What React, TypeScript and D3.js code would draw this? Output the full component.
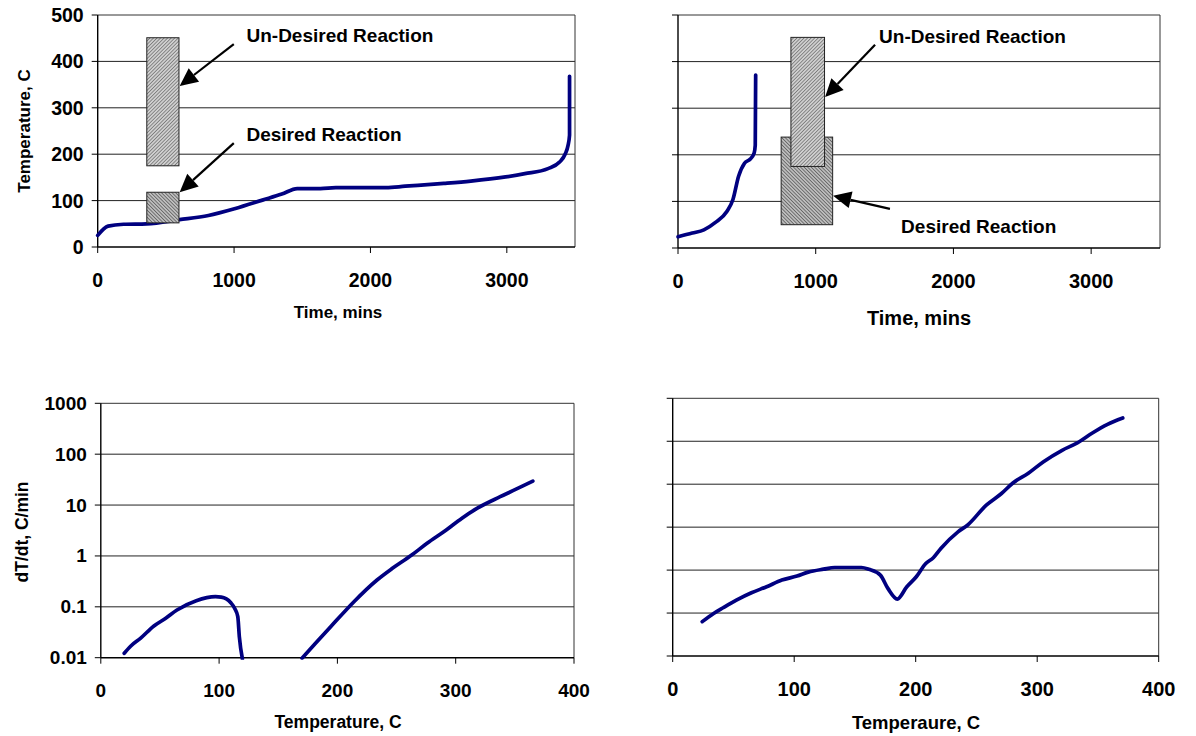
import React from 'react';
import * as d3 from 'd3';

const font = '"Liberation Sans", Arial, sans-serif';
const navy = '#000080';

// top left: slow run, temperature vs time
const slowTime = [0, 76, 190, 359, 600, 812, 1010, 1208, 1350, 1463, 1633, 1746, 2114, 2255, 2538, 2736, 2991, 3132, 3302, 3387, 3429, 3449, 3460, 3460];
const slowTemp = [25, 45, 49, 50, 59, 68, 83, 101, 114, 126, 126, 128, 128, 131, 137, 142, 151, 158, 169, 183, 201, 219, 241, 368];

// top right: fast run, temperature vs time
const fastTime = [0, 104, 188, 272, 356, 399, 440, 483, 525, 553, 561, 564];
const fastTemp = [24, 32, 39, 55, 79, 104, 154, 182, 191, 204, 221, 371];

// bottom left: rate vs temperature, two pieces
const rateTempA = [19.8, 25.4, 33.5, 44.9, 54.6, 64.4, 80.7, 96.9, 101.8, 109.9, 113.2, 115.8, 117.1, 119.7];
const rateA = [0.0122, 0.017, 0.024, 0.042, 0.059, 0.0865, 0.132, 0.158, 0.155, 0.12, 0.093, 0.064, 0.026, 0.0095];
const rateTempB = [170.1, 181.5, 194.5, 214, 233.5, 246.5, 262.8, 275.8, 292, 305, 318, 337.6, 350.6, 365.2];
const rateB = [0.0098, 0.0192, 0.041, 0.126, 0.336, 0.57, 1.04, 1.77, 3.23, 5.47, 8.61, 14.6, 20.3, 29.6];

// bottom right: fast run rate vs temperature
const fastRateTemp = [24.3, 33.7, 41.5, 52.4, 64.8, 77.3, 89.8, 102.3, 111.6, 124.1, 133.4, 155.3, 161.5, 170.9, 177.1, 184.9, 192.7, 200.5, 208.3, 214.5, 220.7, 234.8, 242.6, 258.1, 270.6, 280, 292.4, 304.9, 320.5, 333, 345.4, 357.9, 370.4];
const fastRate = [0.0063, 0.0098, 0.0133, 0.02, 0.0297, 0.0409, 0.0585, 0.0725, 0.0898, 0.105, 0.115, 0.115, 0.104, 0.0766, 0.0375, 0.0212, 0.041, 0.07, 0.143, 0.194, 0.319, 0.778, 1.11, 3.25, 6.07, 10.7, 17.7, 33, 61.7, 91.4, 156, 248, 348];

const timeTicks = [0, 1000, 2000, 3000];
const tempTicks = [0, 100, 200, 300, 400, 500];
const tempAxisTicks = [0, 100, 200, 300, 400];
const rateTicks = [0.01, 0.1, 1, 10, 100, 1000];
const fastRateTicks = [0.001, 0.01, 0.1, 1, 10, 100, 1000];

// reaction windows: [time from, time to, temp from, temp to]
const slowUndesired = [360, 596, 175, 451];
const slowDesired = [360, 596, 52, 118];
const fastDesired = [749, 1123, 50, 238];
const fastUndesired = [820, 1064, 175, 452];

// callouts: [tail time, tail temp, tip time, tip temp, text time, text temp]
const slowCallouts = [
  { text: 'Un-Desired Reaction', at: [998, 437, 601, 347, 1091, 455] },
  { text: 'Desired Reaction', at: [998, 224, 601, 118, 1091, 243] },
];
const fastCallouts = [
  { text: 'Un-Desired Reaction', at: [1431, 436, 1068, 324, 1460, 453] },
  { text: 'Desired Reaction', at: [1539, 84, 1126, 112, 1620, 47] },
];

function Txt({ x, y, size, anchor = 'middle', rotate = 0, children }: any) {
  return (
    <text
      transform={`translate(${x},${y}) rotate(${rotate})`}
      textAnchor={anchor}
      dominantBaseline="central"
      fontFamily={font}
      fontWeight="bold"
      fontSize={size}
      fill="#000"
    >
      {children}
    </text>
  );
}

function Frame({ x, y, xTicks, yTicks, showYLabels, yFmt, tickSize }: any) {
  const [l, r] = x.range();
  const [b, t] = y.range();
  return (
    <g>
      {yTicks.slice(1, -1).map((v: number) => (
        <line key={'g' + v} x1={l} x2={r} y1={y(v)} y2={y(v)} stroke="#222" strokeWidth={1} />
      ))}
      <line x1={l} x2={r} y1={t} y2={t} stroke="#333" strokeWidth={1} />
      <line x1={r} x2={r} y1={t} y2={b} stroke="#333" strokeWidth={1} />
      <line x1={l} x2={r} y1={b} y2={b} stroke="#000" strokeWidth={1.4} />
      <line x1={l} x2={l} y1={t} y2={b} stroke="#000" strokeWidth={1.4} />
      {yTicks.map((v: number) => (
        <line key={'yt' + v} x1={l - 6} x2={l} y1={y(v)} y2={y(v)} stroke="#000" strokeWidth={1} />
      ))}
      {xTicks.map((v: number) => (
        <line key={'xt' + v} x1={x(v)} x2={x(v)} y1={b} y2={b + 6} stroke="#000" strokeWidth={1} />
      ))}
      {xTicks.map((v: number) => (
        <Txt key={'xl' + v} x={x(v)} y={b + 33} size={tickSize}>{String(v)}</Txt>
      ))}
      {showYLabels &&
        yTicks.map((v: number) => (
          <Txt key={'yl' + v} x={l - 14} y={y(v)} size={tickSize} anchor="end">{yFmt(v)}</Txt>
        ))}
    </g>
  );
}

function Curve({ x, y, xs, ys, clip }: any) {
  const line = d3
    .line<number>()
    .x((_, i) => x(xs[i]))
    .y((d) => y(d))
    .curve(d3.curveMonotoneX);
  return (
    <path
      d={line(ys) || ''}
      fill="none"
      stroke={navy}
      strokeWidth={3.7}
      strokeLinecap="round"
      strokeLinejoin="round"
      clipPath={clip}
    />
  );
}

function WindowBox({ x, y, r, fill }: any) {
  return (
    <rect
      x={x(r[0])}
      y={y(r[3])}
      width={x(r[1]) - x(r[0])}
      height={y(r[2]) - y(r[3])}
      fill={fill}
      stroke="#222"
      strokeWidth={1}
    />
  );
}

function Callout({ x, y, c }: any) {
  const [tx, tT, px, pT, lx, lT] = c.at;
  const x1 = x(tx), y1 = y(tT), x2 = x(px), y2 = y(pT);
  const ang = Math.atan2(y2 - y1, x2 - x1);
  const len = 18, half = 8.5;
  const bx = x2 - len * Math.cos(ang), by = y2 - len * Math.sin(ang);
  const nx = -Math.sin(ang) * half, ny = Math.cos(ang) * half;
  return (
    <g>
      <line x1={x1} y1={y1} x2={bx} y2={by} stroke="#000" strokeWidth={2.2} />
      <path d={`M${x2},${y2}L${bx + nx},${by + ny}L${bx - nx},${by - ny}Z`} fill="#000" />
      <Txt x={x(lx)} y={y(lT)} size={19} anchor="start">{c.text}</Txt>
    </g>
  );
}

export default function App() {
  // top left
  const x1 = d3.scaleLinear().domain([0, 3500]).range([97.7, 575]);
  const y1 = d3.scaleLinear().domain([0, 500]).range([247, 15]);
  // top right
  const x2 = d3.scaleLinear().domain([0, 3500]).range([678, 1160]);
  const y2 = d3.scaleLinear().domain([0, 500]).range([248, 15]);
  // bottom left
  const x3 = d3.scaleLinear().domain([0, 400]).range([100.8, 574]);
  const y3 = d3.scaleLog().domain([0.01, 1000]).range([657.7, 403.3]);
  // bottom right
  const x4 = d3.scaleLinear().domain([0, 400]).range([672.7, 1158.7]);
  const y4 = d3.scaleLog().domain([0.001, 1000]).range([656, 398.3]);

  const fmt = (v: number) => String(v);

  return (
    <svg width={1196} height={736} style={{ position: 'absolute', left: 0, top: 0, background: '#fff' }}>
      <defs>
        <pattern id="hatchA" width="2.5" height="2.5" patternUnits="userSpaceOnUse" patternTransform="rotate(45)">
          <rect width="2.5" height="2.5" fill="#cfcfcf" />
          <line x1="0" y1="0" x2="0" y2="2.5" stroke="#5a5a5a" strokeWidth="1.2" />
        </pattern>
        <pattern id="hatchB" width="2.5" height="2.5" patternUnits="userSpaceOnUse" patternTransform="rotate(-45)">
          <rect width="2.5" height="2.5" fill="#bdbdbd" />
          <line x1="0" y1="0" x2="0" y2="2.5" stroke="#4a4a4a" strokeWidth="1.3" />
        </pattern>
        <clipPath id="clipBL">
          <rect x={100.8} y={403.3} width={574 - 100.8} height={657.7 - 403.3 + 2} />
        </clipPath>
      </defs>

      {/* top left */}
      <Frame x={x1} y={y1} xTicks={timeTicks} yTicks={tempTicks} showYLabels yFmt={fmt} tickSize={19.5} />
      <Curve x={x1} y={y1} xs={slowTime} ys={slowTemp} />
      <WindowBox x={x1} y={y1} r={slowUndesired} fill="url(#hatchA)" />
      <WindowBox x={x1} y={y1} r={slowDesired} fill="url(#hatchB)" />
      {slowCallouts.map((c) => <Callout key={c.text} x={x1} y={y1} c={c} />)}
      <Txt x={338} y={312} size={17}>Time, mins</Txt>
      <Txt x={24} y={131} size={17} rotate={-90}>Temperature, C</Txt>

      {/* top right */}
      <Frame x={x2} y={y2} xTicks={timeTicks} yTicks={tempTicks} showYLabels={false} yFmt={fmt} tickSize={20} />
      <Curve x={x2} y={y2} xs={fastTime} ys={fastTemp} />
      <WindowBox x={x2} y={y2} r={fastDesired} fill="url(#hatchB)" />
      <WindowBox x={x2} y={y2} r={fastUndesired} fill="url(#hatchA)" />
      {fastCallouts.map((c) => <Callout key={c.text} x={x2} y={y2} c={c} />)}
      <Txt x={919} y={318} size={20}>Time, mins</Txt>

      {/* bottom left */}
      <Frame x={x3} y={y3} xTicks={tempAxisTicks} yTicks={rateTicks} showYLabels yFmt={fmt} tickSize={19} />
      <Curve x={x3} y={y3} xs={rateTempA} ys={rateA} clip="url(#clipBL)" />
      <Curve x={x3} y={y3} xs={rateTempB} ys={rateB} clip="url(#clipBL)" />
      <Txt x={338} y={722} size={17.5}>Temperature, C</Txt>
      <Txt x={22} y={532} size={17.5} rotate={-90}>dT/dt, C/min</Txt>

      {/* bottom right */}
      <Frame x={x4} y={y4} xTicks={tempAxisTicks} yTicks={fastRateTicks} showYLabels={false} yFmt={fmt} tickSize={20} />
      <Curve x={x4} y={y4} xs={fastRateTemp} ys={fastRate} />
      <Txt x={916} y={722} size={18.5}>Temperaure, C</Txt>
    </svg>
  );
}
